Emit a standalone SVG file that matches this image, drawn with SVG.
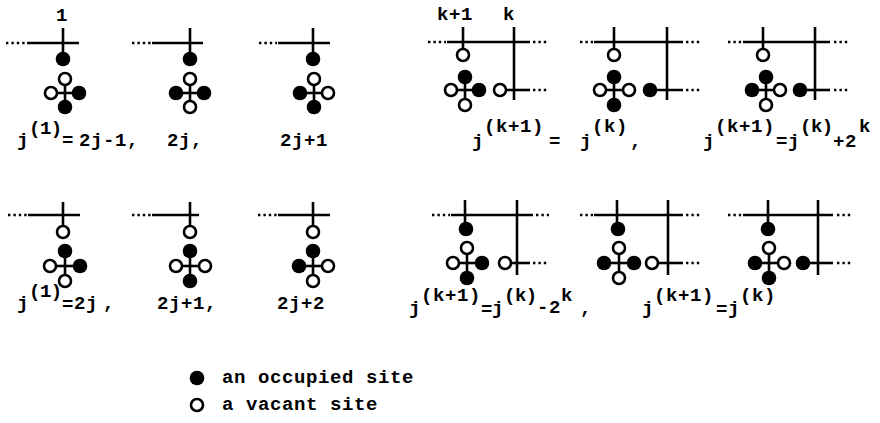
<svg xmlns="http://www.w3.org/2000/svg" width="880" height="423" viewBox="0 0 880 423">
<defs>
<style>
.bg{fill:#fff}
.ln{stroke:#000;stroke-width:2.6;fill:none;stroke-linecap:butt}
.dt{stroke:#000;stroke-width:2.6;fill:none;stroke-dasharray:2.4 3}
.f{fill:#000}
.o{fill:#fff;stroke:#000;stroke-width:2.6}
text{font-family:"Liberation Mono","Courier New",monospace;font-size:19px;font-weight:bold;fill:#000;letter-spacing:0.6px}
.n{letter-spacing:-0.5px}
</style>
</defs>
<rect class="bg" x="0" y="0" width="880" height="423"/>

<g id="connectors">
<line class="dt" x1="6" y1="43" x2="26" y2="43"/><line class="ln" x1="27" y1="43" x2="79" y2="43"/><line class="ln" x1="63" y1="28" x2="63" y2="55"/>
<line class="ln" x1="51" y1="93" x2="79" y2="93"/><line class="ln" x1="65" y1="79" x2="65" y2="107"/>
<line class="dt" x1="132" y1="43" x2="151" y2="43"/><line class="ln" x1="152" y1="43" x2="203" y2="43"/><line class="ln" x1="190" y1="28" x2="190" y2="55"/>
<line class="ln" x1="176" y1="93" x2="204" y2="93"/><line class="ln" x1="190" y1="79" x2="190" y2="107"/>
<line class="dt" x1="259" y1="43" x2="277" y2="43"/><line class="ln" x1="278" y1="43" x2="330" y2="43"/><line class="ln" x1="313" y1="28" x2="313" y2="55"/>
<line class="ln" x1="300" y1="93" x2="328" y2="93"/><line class="ln" x1="314" y1="79" x2="314" y2="107"/>

<line class="dt" x1="428" y1="42" x2="446" y2="42"/><line class="ln" x1="447" y1="42" x2="530" y2="42"/><line class="dt" x1="533" y1="42" x2="548" y2="42"/>
<line class="ln" x1="463" y1="27" x2="463" y2="50"/><line class="ln" x1="514" y1="27" x2="514" y2="100"/>
<line class="ln" x1="451" y1="90" x2="479" y2="90"/><line class="ln" x1="465" y1="77" x2="465" y2="105"/>
<line class="ln" x1="500" y1="90" x2="530" y2="90"/><line class="dt" x1="533" y1="90" x2="547" y2="90"/>
<line class="dt" x1="580" y1="42" x2="593" y2="42"/><line class="ln" x1="594" y1="42" x2="683" y2="42"/><line class="dt" x1="686" y1="42" x2="700" y2="42"/>
<line class="ln" x1="614" y1="27" x2="614" y2="50"/><line class="ln" x1="667" y1="27" x2="667" y2="100"/>
<line class="ln" x1="600" y1="90" x2="629" y2="90"/><line class="ln" x1="614" y1="77" x2="614" y2="105"/>
<line class="ln" x1="650" y1="90" x2="683" y2="90"/><line class="dt" x1="686" y1="90" x2="700" y2="90"/>
<line class="dt" x1="728" y1="42" x2="742" y2="42"/><line class="ln" x1="743" y1="42" x2="830" y2="42"/><line class="dt" x1="834" y1="42" x2="850" y2="42"/>
<line class="ln" x1="763" y1="27" x2="763" y2="50"/><line class="ln" x1="815" y1="27" x2="815" y2="100"/>
<line class="ln" x1="752" y1="90" x2="780" y2="90"/><line class="ln" x1="766" y1="77" x2="766" y2="105"/>
<line class="ln" x1="800" y1="90" x2="830" y2="90"/><line class="dt" x1="834" y1="90" x2="848" y2="90"/>

<line class="dt" x1="8" y1="215" x2="27" y2="215"/><line class="ln" x1="28" y1="215" x2="80" y2="215"/><line class="ln" x1="63" y1="202" x2="63" y2="226"/>
<line class="ln" x1="50" y1="266" x2="80" y2="266"/><line class="ln" x1="65" y1="251" x2="65" y2="281"/>
<line class="dt" x1="132" y1="215" x2="151" y2="215"/><line class="ln" x1="152" y1="215" x2="199" y2="215"/><line class="ln" x1="190" y1="202" x2="190" y2="226"/>
<line class="ln" x1="176" y1="266" x2="205" y2="266"/><line class="ln" x1="190" y1="251" x2="190" y2="281"/>
<line class="dt" x1="258" y1="215" x2="277" y2="215"/><line class="ln" x1="278" y1="215" x2="330" y2="215"/><line class="ln" x1="313" y1="202" x2="313" y2="226"/>
<line class="ln" x1="299" y1="266" x2="328" y2="266"/><line class="ln" x1="313" y1="251" x2="313" y2="281"/>

<line class="dt" x1="432" y1="215" x2="450" y2="215"/><line class="ln" x1="451" y1="215" x2="533" y2="215"/><line class="dt" x1="536" y1="215" x2="549" y2="215"/>
<line class="ln" x1="465" y1="200" x2="465" y2="223"/><line class="ln" x1="517" y1="200" x2="517" y2="275"/>
<line class="ln" x1="453" y1="263" x2="482" y2="263"/><line class="ln" x1="467" y1="248" x2="467" y2="278"/>
<line class="ln" x1="505" y1="263" x2="530" y2="263"/><line class="dt" x1="533" y1="263" x2="547" y2="263"/>
<line class="dt" x1="580" y1="215" x2="593" y2="215"/><line class="ln" x1="594" y1="215" x2="683" y2="215"/><line class="dt" x1="686" y1="215" x2="700" y2="215"/>
<line class="ln" x1="617" y1="200" x2="617" y2="223"/><line class="ln" x1="668" y1="200" x2="668" y2="275"/>
<line class="ln" x1="604" y1="263" x2="634" y2="263"/><line class="ln" x1="619" y1="248" x2="619" y2="278"/>
<line class="ln" x1="652" y1="263" x2="683" y2="263"/><line class="dt" x1="686" y1="263" x2="700" y2="263"/>
<line class="dt" x1="728" y1="215" x2="742" y2="215"/><line class="ln" x1="743" y1="215" x2="833" y2="215"/><line class="dt" x1="837" y1="215" x2="851" y2="215"/>
<line class="ln" x1="768" y1="200" x2="768" y2="223"/><line class="ln" x1="818" y1="200" x2="818" y2="275"/>
<line class="ln" x1="755" y1="263" x2="784" y2="263"/><line class="ln" x1="769" y1="248" x2="769" y2="278"/>
<line class="ln" x1="803" y1="263" x2="833" y2="263"/><line class="dt" x1="837" y1="263" x2="851" y2="263"/>
</g>

<g id="n1">
<circle class="f" cx="63" cy="59" r="7.3"/>
<circle class="o" cx="65" cy="79" r="6"/><circle class="o" cx="51" cy="93" r="6"/><circle class="f" cx="79" cy="93" r="7.3"/><circle class="f" cx="65" cy="107" r="7.3"/>
</g>
<g id="n2">
<circle class="f" cx="190" cy="59" r="7.3"/>
<circle class="o" cx="190" cy="79" r="6"/><circle class="f" cx="176" cy="93" r="7.3"/><circle class="f" cx="204" cy="93" r="7.3"/><circle class="o" cx="190" cy="107" r="6"/>
</g>
<g id="n3">
<circle class="f" cx="313" cy="59" r="7.3"/>
<circle class="o" cx="314" cy="79" r="6"/><circle class="f" cx="300" cy="93" r="7.3"/><circle class="o" cx="328" cy="93" r="6"/><circle class="f" cx="314" cy="107" r="7.3"/>
</g>
<g id="n4">
<circle class="o" cx="463" cy="55" r="6"/>
<circle class="f" cx="465" cy="77" r="7.3"/><circle class="o" cx="451" cy="90" r="6"/><circle class="f" cx="479" cy="90" r="7.3"/><circle class="o" cx="465" cy="105" r="6"/>
<circle class="o" cx="500" cy="90" r="6"/>
</g>
<g id="n5">
<circle class="o" cx="614" cy="55" r="6"/>
<circle class="f" cx="614" cy="77" r="7.3"/><circle class="o" cx="600" cy="90" r="6"/><circle class="o" cx="629" cy="90" r="6"/><circle class="f" cx="614" cy="105" r="7.3"/>
<circle class="f" cx="650" cy="90" r="7.3"/>
</g>
<g id="n6">
<circle class="o" cx="763" cy="55" r="6"/>
<circle class="f" cx="766" cy="77" r="7.3"/><circle class="f" cx="752" cy="90" r="7.3"/><circle class="o" cx="780" cy="90" r="6"/><circle class="o" cx="766" cy="105" r="6"/>
<circle class="f" cx="800" cy="90" r="7.3"/>
</g>
<g id="n7">
<circle class="o" cx="63" cy="232" r="6"/>
<circle class="f" cx="65" cy="251" r="7.3"/><circle class="o" cx="50" cy="266" r="6"/><circle class="f" cx="80" cy="266" r="7.3"/><circle class="o" cx="65" cy="281" r="6"/>
</g>
<g id="n8">
<circle class="o" cx="190" cy="232" r="6"/>
<circle class="f" cx="190" cy="251" r="7.3"/><circle class="o" cx="176" cy="266" r="6"/><circle class="o" cx="205" cy="266" r="6"/><circle class="f" cx="190" cy="281" r="7.3"/>
</g>
<g id="n9">
<circle class="o" cx="313" cy="232" r="6"/>
<circle class="f" cx="313" cy="251" r="7.3"/><circle class="f" cx="299" cy="266" r="7.3"/><circle class="o" cx="328" cy="266" r="6"/><circle class="o" cx="313" cy="281" r="6"/>
</g>
<g id="n10">
<circle class="f" cx="466" cy="229" r="7.3"/>
<circle class="o" cx="467" cy="248" r="6"/><circle class="o" cx="453" cy="263" r="6"/><circle class="f" cx="482" cy="263" r="7.3"/><circle class="f" cx="467" cy="278" r="7.3"/>
<circle class="o" cx="505" cy="263" r="6"/>
</g>
<g id="n11">
<circle class="f" cx="618" cy="229" r="7.3"/>
<circle class="o" cx="619" cy="248" r="6"/><circle class="f" cx="604" cy="263" r="7.3"/><circle class="f" cx="634" cy="263" r="7.3"/><circle class="o" cx="619" cy="278" r="6"/>
<circle class="o" cx="652" cy="263" r="6"/>
</g>
<g id="n12">
<circle class="f" cx="768" cy="229" r="7.3"/>
<circle class="o" cx="769" cy="248" r="6"/><circle class="f" cx="755" cy="263" r="7.3"/><circle class="o" cx="784" cy="263" r="6"/><circle class="f" cx="769" cy="278" r="7.3"/>
<circle class="f" cx="803" cy="263" r="7.3"/>
</g>

<g id="labels">
<text x="56" y="21">1</text>
<text x="437" y="20">k+1</text>
<text x="503" y="20">k</text>

<text x="17" y="146">j<tspan class="n" x="29" y="134">(1)</tspan><tspan x="62" y="146">=</tspan><tspan x="79" y="146">2j-1,</tspan></text>
<text x="167" y="146">2j,</text>
<text x="280" y="146">2j+1</text>

<text x="472" y="147">j<tspan x="484" y="132">(k+1)</tspan><tspan x="549" y="147">=</tspan><tspan x="580" y="147">j</tspan><tspan x="592" y="132">(k)</tspan><tspan x="630" y="147">,</tspan></text>
<text x="703" y="147">j<tspan x="715" y="132">(k+1)</tspan><tspan x="776" y="147">=j</tspan><tspan class="n" x="800" y="132">(k)</tspan><tspan x="833" y="147">+2</tspan><tspan x="859" y="132">k</tspan></text>

<text x="17" y="309">j<tspan class="n" x="29" y="297">(1)</tspan><tspan x="62" y="310">=</tspan><tspan x="74" y="309">2j</tspan><tspan x="103" y="309">,</tspan></text>
<text x="157" y="309">2j+1,</text>
<text x="277" y="309">2j+2</text>

<text x="409" y="314">j<tspan x="421" y="301">(k+1)</tspan><tspan x="481" y="315">=</tspan><tspan x="492" y="314">j</tspan><tspan class="n" x="504" y="301">(k)</tspan><tspan x="537" y="313">-</tspan><tspan x="549" y="313">2</tspan><tspan x="561" y="301">k</tspan><tspan x="580" y="314">,</tspan></text>
<text x="642" y="314">j<tspan x="654" y="301">(k+1)</tspan><tspan x="716" y="315">=</tspan><tspan x="728" y="314">j</tspan><tspan x="740" y="301">(k)</tspan></text>
</g>

<g id="legend">
<circle class="f" cx="197" cy="378" r="7.3"/>
<circle class="o" cx="197" cy="405" r="6"/>
<text x="222" y="383">an occupied site</text>
<text x="222" y="410">a vacant site</text>
</g>
</svg>
